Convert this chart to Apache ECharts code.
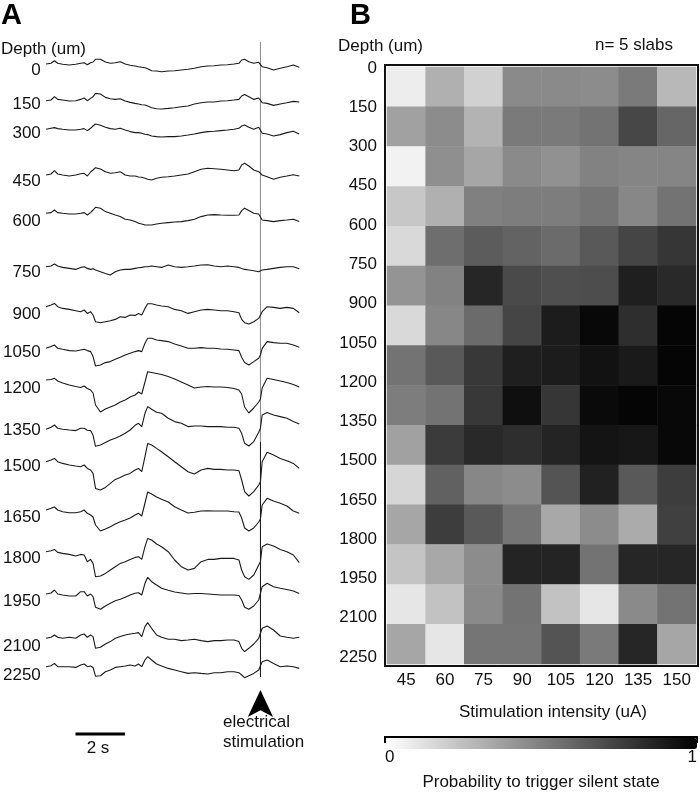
<!DOCTYPE html>
<html>
<head>
<meta charset="utf-8">
<script src="https://cdn.jsdelivr.net/npm/echarts@6/dist/echarts.min.js"></script>
<style>html,body{margin:0;padding:0;background:#fff}#c{width:700px;height:792px}</style>
</head>
<body>
<div id="c"></div>
<script>
// ---------- Panel A data ----------
// sample times (s) shared by all LFP traces
const times = [0.01,0.21,0.35,0.48,0.68,0.95,1.21,1.41,1.55,1.68,1.81,1.91,2.01,2.21,2.41,2.61,2.81,3.01,3.21,3.41,3.61,3.75,3.88,4.01,4.12,4.28,4.48,4.68,4.95,5.21,5.48,5.75,6.01,6.28,6.55,6.81,7.08,7.35,7.61,7.81,7.92,8.04,8.21,8.41,8.61,8.68,8.75,8.95,9.21,9.48,9.75,10.01,10.25];
const stimTime = 8.68;
const depthLabels = ['0','150','300','450','600','750','900','1050','1200','1350','1500','1650','1800','1950','2100','2250'];
// LFP deflections (arbitrary units, up = positive), one array per depth
const lfp0    = [0,0.7,3.3,0.7,-0.3,-1,-0.3,0.7,1.3,-0.7,1.3,2,4.7,4.7,2,0.7,1.3,2.3,0,-1.3,-2,-2.7,-3.3,-3.7,-4.7,-6.7,-7,-7.7,-7,-6.7,-6,-5.3,-4.3,-2.7,-2,-1.7,-1,-0.7,0,0.7,4,4.7,2.3,0.7,1.7,0,-2.7,-3.7,-6,-4.3,-2.7,-1,-3.3];
const lfp150  = [0,0.7,4,1.3,0.7,-0.3,0,1.3,2.7,0,2.3,4,7.3,6.7,3.3,2,1.3,2,-0.3,-1.7,-2.7,-3.3,-4,-4.3,-5.3,-7,-8,-8.3,-7.7,-7,-6,-5.3,-3.3,-2,-1.3,-1.3,-0.3,0,0.7,1.3,4.7,6.3,4,1.3,2.7,2,-2,-2.7,-4.7,-3.3,-2,-0.7,-1.3];
const lfp300  = [0,1,1.7,0.7,0,-0.7,-0.7,0,0.7,-1.3,1,3.3,5.3,4,2,0.7,0,1,-0.7,-2.3,-3.3,-3.3,-4,-5,-5.3,-6.7,-7.3,-7.7,-7.3,-7.3,-6.7,-5.7,-4.7,-3.3,-2.3,-2,-1.3,-0.7,0,1,3.3,4.3,2,0,2,0,-4,-4.7,-6.7,-5.3,-3.3,-2,-4.7];
const lfp450  = [0,1,4.3,1,0,-1,0,1.3,1.7,-1,3,5,7.3,6,3.3,1.7,2.3,3.3,0,-1,-1,-2,-2.3,-3.3,-4.3,-5,-3.3,-2.3,-1.7,-1,0,1,3.3,5.7,6.7,6.3,5.7,5,4.3,5,10,11.7,9,5,3.3,2.3,0,-1.7,-4.3,-2.3,-1,0.3,-1];
const lfp600  = [0,0.7,3.3,0.7,0,-0.7,-0.7,0,0.7,-1.7,0.7,3.3,6,5,1.7,0,-1.7,-3.3,-6,-6.7,-8.3,-10,-10.7,-11.7,-11.7,-11.7,-10.7,-10,-9.3,-8.7,-8.3,-7.3,-6,-3.3,-1.7,-1.3,-1.7,-2,-2,-1.7,2.7,5,2.7,0,-0.7,-1.7,-6.7,-7.3,-8.3,-7.3,-6.7,-6,-8.3];
const lfp750  = [0,0.7,2.7,0.7,-0.7,-1.7,-2.7,-0.7,0,-1.7,-2.7,-2,-3.3,-5,-6.7,-8.3,-5,-3.3,-2.7,-2.7,-1.7,-1,-0.7,0,0,0.7,0,-0.7,1.7,0,-0.7,0,0.7,1.7,2,0.7,0,0.7,0,-0.7,-1.7,-2.7,-3.3,-4,-5,-4,-3.3,-2.7,-1.7,-0.7,0,0,-2];
const lfp900  = [0,1.7,3.3,0,-1.7,-2.7,-4,-5,-3.3,-6.7,-5,-8.3,-15,-16,-15,-14,-12.7,-10,-10.7,-8.3,-8.7,-6.7,-8.3,-1.7,3,3,1.7,0.7,0,-2.7,-4,-6.7,-5,-3.3,-2.7,-3.3,-4,-4,-5,-6,-12.7,-16,-17.3,-15,-11.7,-10,-5,0,-0.7,-1.7,-0.7,-1.7,-6];
const lfp1050 = [0,1.7,3.3,0,-1,-2.3,-2.7,-1.7,-1,-2.3,-3.3,-8.3,-17.7,-16.7,-14.3,-13.3,-11,-9,-6.7,-5,-3.3,-2.3,-3.3,5,10,10,8.3,7.7,6.7,4.3,2.3,0,0,0.7,0,0,-0.7,-1,-1.7,-2.3,-9,-14.3,-16.7,-13.3,-10,-6.7,0,6.7,5.7,5,5,3.3,1];
const lfp1200 = [0,0.5,1.7,-1,-3,-5,-6.5,-7.5,-6,-8.5,-10,-13,-25,-32,-29,-27,-25,-22,-20,-17,-15,-12,-14,-2,8.3,7.5,6.5,5.5,3.5,1,-2,-5,-8,-7,-6.5,-7,-7,-7.5,-8.5,-10,-14,-27,-33,-28,-22,-19,-8,1.7,0.5,-1,-2.5,-4.5,-7];
const lfp1350 = [0,2,4.3,1,0,-0.7,-1.3,1,1,-1,-1.3,-6,-17,-15.7,-13.3,-10.7,-9,-6.7,-4,-0.7,4,6,2.7,16,22.7,20,17,16,11,7.7,6,2.7,3.3,3.3,2.7,2.7,2.7,2,2,1,-4,-14,-16.7,-12.3,-3,1,14.3,16.7,14.3,12.7,11,7.7,5.3];
const lfp1500 = [0,1.7,3.3,0,-1.7,-3.3,-4.3,-5,-3.3,-6.7,-8.3,-11.7,-26.7,-28.3,-25.7,-21.7,-17.7,-15.7,-13.3,-11.7,-8.3,-6.7,-10,5,18.3,16.7,13.3,10,5,0,-5,-10,-12.3,-8.3,-6.7,-7.7,-7.7,-8.3,-8.3,-9,-18.3,-30,-34.3,-30,-23.3,-20,0,9.5,6.7,3.3,1,-1.7,-6.7];
const lfp1650 = [0,1.7,3,0,-1.7,-2.7,-2.7,-1.7,0,-3.3,-5,-7,-15,-21,-19,-16.7,-14,-11.7,-10,-8,-5,-3.3,-6,7,18,16,13,10.7,8,3.3,0,-3,-2.3,-1,-0.7,-1,-1,-1,-1.7,-2,-8,-18,-21,-18,-12,-9,5,11.7,9,6.7,4,-1,-3.3];
const lfp1800 = [0,1,2.3,-0.7,-1.7,-2.7,-4.3,-2.7,-3.3,-10,-7.7,-11.7,-25,-24.3,-21.7,-18.3,-15,-11.7,-10,-7.7,-5.7,-5,-7.7,5,13.3,11.7,7.7,5,0,-8.3,-15,-18.3,-16.7,-10,-7.7,-7.7,-6.7,-6.7,-6.7,-8.3,-18.3,-25,-27.7,-23.3,-13.3,-10,5,7.7,5.7,2.3,0,-3.3,-11];
const lfp1950 = [0,1,4,0,-1,-2,-2,2.3,2.3,-2,0,-2.7,-13.3,-15.3,-12,-9.3,-6.7,-5.3,-3.3,-1,0.7,1.3,-1,10.7,16.7,12.3,9,5.7,3.7,2,1,0,0.5,0.5,0,-0.5,-1,-1,-1,-1.5,-6,-13.3,-15.3,-12,-6,-4.3,7.3,10.7,7.3,5.7,4.5,3,0.5];
const lfp2100 = [0,1,3.3,1,0,1,0,3.3,4.3,1,3.3,1.7,-10,-9,-5.7,-3.3,0,1.7,3.3,4.3,5,5.7,1.7,11.7,15.7,10,3.3,1,-1,-1,-2.3,-1.7,-1,-2.3,-3.3,-2.3,-2.3,-1.7,-1.7,-3.3,-10,-13.3,-10,-5.7,0,1.7,10,12.3,8.3,2.3,1,0,1];
const lfp2250 = [0,1,3.3,0,0,0,-0.7,1.7,2.7,0,0.7,-0.7,-9.5,-9,-5,-3.3,-0.7,0,0.7,1.7,0.7,2.7,0,6.7,10,6.7,2.7,0.7,-1.7,-3.3,-5,-6.7,-6,-6.7,-7.3,-6,-6,-5,-5,-6,-8.3,-11,-9,-6.7,-3.3,-2.7,5,6.7,3.3,0,0.7,0,-1.7];
const traces = [lfp0,lfp150,lfp300,lfp450,lfp600,lfp750,lfp900,lfp1050,lfp1200,lfp1350,lfp1500,lfp1650,lfp1800,lfp1950,lfp2100,lfp2250];

// ---------- Panel B data ----------
const intensities = ['45','60','75','90','105','120','135','150'];
const depthBins = ['0-150','150-300','300-450','450-600','600-750','750-900','900-1050','1050-1200','1200-1350','1350-1500','1500-1650','1650-1800','1800-1950','1950-2100','2100-2250'];
// probability to trigger silent state, rows = depth bins, columns = intensities
const prob = [
  [0.07,0.31,0.18,0.46,0.46,0.45,0.52,0.28],
  [0.37,0.45,0.30,0.52,0.52,0.55,0.72,0.60],
  [0.05,0.44,0.35,0.46,0.43,0.49,0.48,0.48],
  [0.22,0.31,0.50,0.51,0.51,0.54,0.47,0.55],
  [0.15,0.57,0.64,0.61,0.58,0.65,0.73,0.79],
  [0.42,0.49,0.85,0.71,0.69,0.70,0.88,0.84],
  [0.15,0.47,0.58,0.73,0.89,0.97,0.82,0.98],
  [0.55,0.65,0.78,0.88,0.89,0.93,0.90,0.98],
  [0.51,0.55,0.78,0.94,0.79,0.96,0.98,0.97],
  [0.37,0.77,0.84,0.82,0.86,0.92,0.91,0.97],
  [0.16,0.62,0.47,0.45,0.67,0.87,0.65,0.76],
  [0.35,0.76,0.65,0.54,0.34,0.45,0.33,0.75],
  [0.23,0.34,0.45,0.86,0.86,0.55,0.85,0.85],
  [0.10,0.24,0.46,0.55,0.24,0.10,0.46,0.55],
  [0.35,0.10,0.54,0.54,0.67,0.52,0.85,0.35]
];

// ---------- layout (not data) ----------
const traceOffset = [22,58.7,87.3,133,171.3,224.7,264.7,306.3,338,387.3,419.7,468,509.7,552,596.3,624.7];
const labelPos = [28,62,91,139,179,230,272,310,346,388,424,475,516,559,604,633];
const FONT = 'Liberation Sans, Arial, sans-serif';

const chart = echarts.init(document.getElementById('c'), null, {renderer: 'canvas'});

const series = [];
traces.forEach((tr, i) => {
  series.push({
    type: 'line', xAxisIndex: 0, yAxisIndex: 0,
    data: times.map((t, k) => [t, traceOffset[i] - tr[k]]),
    symbol: 'none', silent: true, z: 3,
    lineStyle: {color: '#1a1a1a', width: 1.1}
  });
});
// stimulation marker line (drawn through the traces)
series.push({type: 'line', xAxisIndex: 0, yAxisIndex: 0, symbol: 'none', silent: true, z: 2,
  data: [[stimTime, 0], [stimTime, 400]], lineStyle: {color: '#8a8a8a', width: 1}});
series.push({type: 'line', xAxisIndex: 0, yAxisIndex: 0, symbol: 'none', silent: true, z: 2,
  data: [[stimTime, 400], [stimTime, 635]], lineStyle: {color: '#111', width: 1}});
// arrow head
series.push({type: 'scatter', xAxisIndex: 0, yAxisIndex: 0, silent: true,
  data: [[stimTime, 648]], symbol: 'arrow', symbolSize: [19, 27], itemStyle: {color: '#000', opacity: 1}});
// 2 s scale bar
series.push({type: 'line', xAxisIndex: 0, yAxisIndex: 0, symbol: 'none', silent: true,
  data: [[1.2, 692], [3.2, 692]], lineStyle: {color: '#000', width: 3}});

// heatmap
const hm = [];
prob.forEach((row, r) => row.forEach((v, c) => hm.push([c, r, v])));
series.push({type: 'heatmap', xAxisIndex: 1, yAxisIndex: 1, data: hm, silent: true,
  itemStyle: {borderWidth: 0}, emphasis: {disabled: true}});

const hidden = {show: false};
const option = {
  backgroundColor: '#fff',
  animation: false,
  textStyle: {fontFamily: FONT},
  grid: [
    {left: 43, top: 42, width: 257, height: 720},                // 0 traces
    {left: 387, top: 67, width: 309, height: 597},               // 1 heatmap
    {left: 385, top: 65, width: 313, height: 601, show: true, borderColor: '#111', borderWidth: 2, backgroundColor: 'transparent'}, // 2 frame
    {left: 386, top: 68, width: 1, height: 589},                 // 3 depth labels B
    {left: 385, top: 737, width: 313, height: 12, show: true, borderColor: '#000', borderWidth: 2, backgroundColor: 'transparent'} // 4 colorbar
  ],
  xAxis: [
    {gridIndex: 0, type: 'value', min: 0, max: 10.28, show: false},
    {gridIndex: 1, type: 'category', data: intensities,
      axisLine: hidden, axisTick: hidden, splitLine: hidden,
      axisLabel: {fontSize: 17, color: '#111', margin: 8, fontFamily: FONT},
      name: 'Stimulation intensity (uA)', nameLocation: 'middle', nameGap: 40,
      nameTextStyle: {fontSize: 17, color: '#111', padding: [0, 0, 0, 23], fontFamily: FONT}},
    {gridIndex: 2, type: 'value', show: false},
    {gridIndex: 3, type: 'value', show: false},
    {gridIndex: 4, type: 'value', min: 0, max: 1, interval: 1,
      axisLine: hidden, axisTick: hidden, splitLine: hidden,
      axisLabel: {fontSize: 17, color: '#111', margin: 7, alignMinLabel: 'left', alignMaxLabel: 'right', fontFamily: FONT},
      name: 'Probability to trigger silent state', nameLocation: 'middle', nameGap: 32,
      nameTextStyle: {fontSize: 17, color: '#111', fontFamily: FONT}}
  ],
  yAxis: [
    {gridIndex: 0, type: 'value', min: 0, max: 720, inverse: true,
      axisLine: hidden, axisTick: hidden, splitLine: hidden,
      axisLabel: {show: true, customValues: labelPos, margin: 5, fontSize: 17, color: '#111', fontFamily: FONT,
        formatter: function (v) {
          let best = 0;
          labelPos.forEach((p, i) => { if (Math.abs(p - v) < Math.abs(labelPos[best] - v)) best = i; });
          return depthLabels[best];
        }}},
    {gridIndex: 1, type: 'category', data: depthBins, inverse: true, show: false},
    {gridIndex: 2, type: 'value', show: false},
    {gridIndex: 3, type: 'value', min: 0, max: 2250, interval: 150, inverse: true,
      axisLine: hidden, axisTick: hidden, splitLine: hidden,
      axisLabel: {fontSize: 17, color: '#111', margin: 9, fontFamily: FONT,
        formatter: function (v) { return String(v); }}},
    {gridIndex: 4, type: 'value', show: false}
  ],
  visualMap: {
    type: 'continuous', min: 0, max: 1, seriesIndex: series.length - 1,
    orient: 'horizontal', left: 386, top: 738, itemWidth: 11, itemHeight: 311,
    calculable: false, hoverLink: false, padding: 0, text: null, showLabel: false,
    inRange: {color: ['#ffffff', '#000000']}
  },
  graphic: [
    {type: 'text', left: 1, top: 1, style: {text: 'A', font: 'bold 29px ' + FONT, fill: '#000'}},
    {type: 'text', left: 350, top: 1, style: {text: 'B', font: 'bold 29px ' + FONT, fill: '#000'}},
    {type: 'text', x: 1, y: 49, style: {text: 'Depth (um)', font: '17px ' + FONT, fill: '#111', verticalAlign: 'middle'}},
    {type: 'text', x: 423, y: 46, style: {text: 'Depth (um)', font: '17px ' + FONT, fill: '#111', align: 'right', verticalAlign: 'middle'}},
    {type: 'text', x: 595, y: 45, style: {text: 'n= 5 slabs', font: '17px ' + FONT, fill: '#111', verticalAlign: 'middle'}},
    {type: 'text', x: 98, y: 748, style: {text: '2 s', font: '17px ' + FONT, fill: '#111', align: 'center', verticalAlign: 'middle'}},
    {type: 'text', x: 223, y: 722, style: {text: 'electrical', font: '17px ' + FONT, fill: '#111', verticalAlign: 'middle'}},
    {type: 'text', x: 223, y: 742, style: {text: 'stimulation', font: '17px ' + FONT, fill: '#111', verticalAlign: 'middle'}}
  ],
  series: series
};
chart.setOption(option);
</script>
</body>
</html>
